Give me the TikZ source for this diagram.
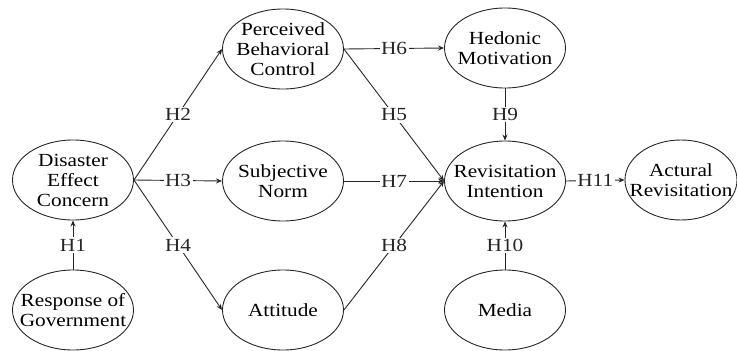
\documentclass[tikz,border=0pt]{standalone}
\usepackage{fontspec}
\setmainfont{Liberation Serif}[FakeStretch=1.15]
\usepackage{tikz}
\usetikzlibrary{positioning, arrows.meta, shapes, calc}

\begin{document}
\begin{tikzpicture}[
    x=1pt, y=-1pt,
    font=\fontsize{18.5}{20}\selectfont,
    concept/.style={ellipse, draw=black!85, line width=0.9pt, minimum width=121, minimum height=80, inner sep=0pt, label={[align=center]center:#1}},
    hyp/.style={fill=white, inner sep=1.5pt},
    arrow/.style={-{Stealth[length=6pt, width=5pt]}, line width=0.9pt, black!85}
]
\useasboundingbox (0,0) rectangle (737,351);

% Constructs
\node[concept={Disaster\\Effect\\Concern}] (dec) at (73, 180) {};
\node[concept={Response of\\Government}] (rog) at (73, 310) {};
\node[concept={Perceived\\Behavioral\\Control}] (pbc) at (283, 49) {};
\node[concept={Subjective\\Norm}] (sn) at (283, 181) {};
\node[concept={Attitude}] (att) at (283, 310) {};
\node[concept={Hedonic\\Motivation}] (hm) at (505, 48) {};
\node[concept={Revisitation\\Intention}] (ri) at (505, 181) {};
\node[concept={Media}] (media) at (505, 310) {};
\node[concept={Actural\\Revisitation}, minimum width=112] (ar) at (681, 180) {};

% Hypotheses
\draw[arrow] (rog.north) -- node[hyp] {H1} (dec.south);
\draw[arrow] (dec.east) -- node[hyp] {H2} (pbc.west);
\draw[arrow] (dec.east) -- node[hyp] {H3} (sn.west);
\draw[arrow] (dec.east) -- node[hyp] {H4} (att.west);
\draw[arrow] (pbc.east) -- node[hyp] {H5} (ri.west);
\draw[arrow] (pbc.east) -- node[hyp] {H6} (hm.west);
\draw[arrow] (sn.east) -- node[hyp] {H7} (ri.west);
\draw[arrow] (att.east) -- node[hyp] {H8} (ri.west);
\draw[arrow] (hm.south) -- node[hyp] {H9} (ri.north);
\draw[arrow] (media.north) -- node[hyp] {H10} (ri.south);
\draw[arrow] (ri.east) -- node[hyp] {H11} (ar.west);

\end{tikzpicture}
\end{document}
